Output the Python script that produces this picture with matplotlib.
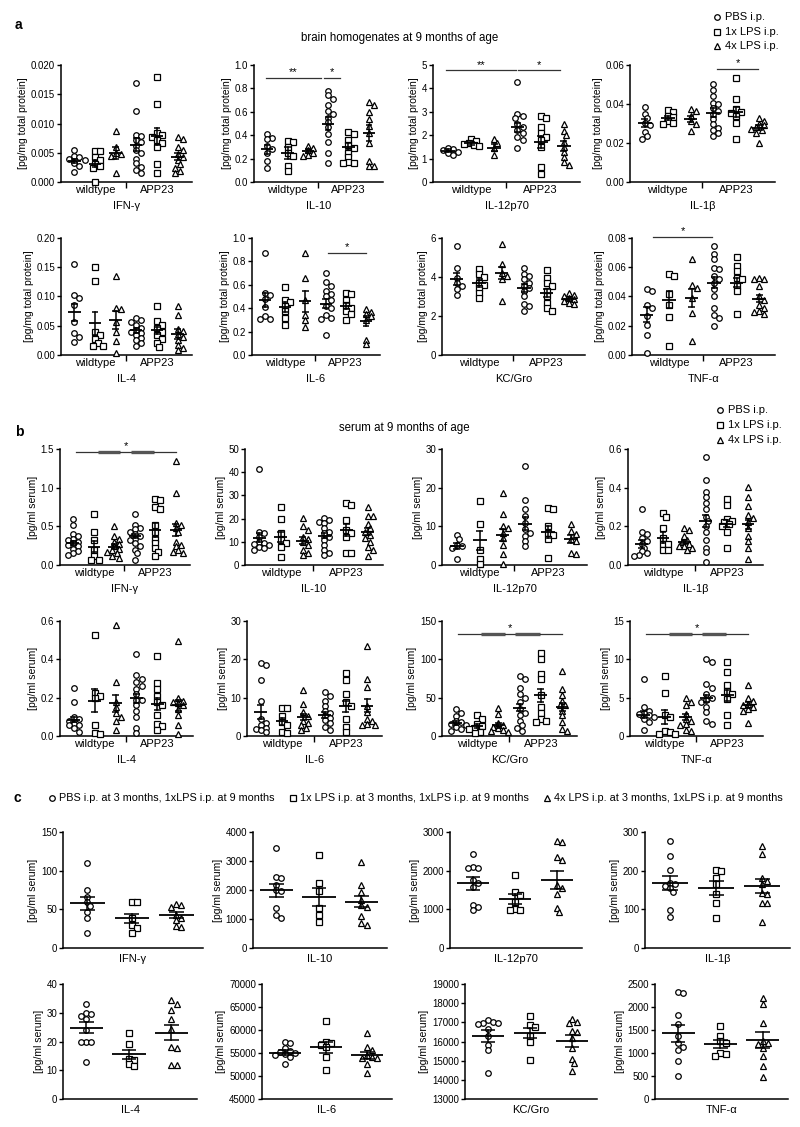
import matplotlib
matplotlib.use('Agg')
import matplotlib.pyplot as plt
import numpy as np
from matplotlib.lines import Line2D
from matplotlib.ticker import FormatStrFormatter

plt.rcParams['font.family'] = ['Liberation Sans', 'DejaVu Sans']

# ---------------- data: panel a (brain homogenates) ----------------
a_ifng = [[0.0054, 0.0045, 0.0042, 0.0040, 0.0038, 0.0033, 0.0028, 0.0017],
          [0.0053, 0.0053, 0.0043, 0.0037, 0.0031, 0.0028, 0.0024, 0.0000],
          [0.0087, 0.0060, 0.0050, 0.0048, 0.0044, 0.0016],
          [0.0169, 0.0121, 0.0081, 0.0078, 0.0071, 0.0068, 0.0062, 0.0054, 0.0049, 0.0040, 0.0032, 0.0026, 0.0020, 0.0016],
          [0.0180, 0.0133, 0.0083, 0.0080, 0.0077, 0.0072, 0.0066, 0.0060, 0.0031, 0.0015],
          [0.0077, 0.0074, 0.0060, 0.0055, 0.0048, 0.0043, 0.0037, 0.0030, 0.0024, 0.0018, 0.0015]]
a_ifng_mean = [0.0036, 0.0031, 0.0050, 0.0064, 0.0078, 0.0043]
a_ifng_sem = [0.0004, 0.0006, 0.0010, 0.0011, 0.0014, 0.0006]

a_il10 = [[0.41, 0.38, 0.37, 0.31, 0.28, 0.25, 0.18, 0.12],
          [0.35, 0.34, 0.30, 0.25, 0.22, 0.14, 0.09],
          [0.31, 0.29, 0.27, 0.25, 0.23, 0.22],
          [0.78, 0.74, 0.71, 0.66, 0.61, 0.58, 0.55, 0.51, 0.47, 0.41, 0.34, 0.25, 0.16],
          [0.43, 0.41, 0.36, 0.32, 0.29, 0.25, 0.21, 0.17, 0.16, 0.16],
          [0.68, 0.66, 0.60, 0.54, 0.48, 0.42, 0.33, 0.18, 0.14, 0.14]]
a_il10_mean = [0.28, 0.245, 0.265, 0.50, 0.30, 0.42]
a_il10_sem = [0.04, 0.05, 0.02, 0.055, 0.03, 0.07]

a_il12 = [[1.45, 1.42, 1.35, 1.28, 1.22, 1.15],
          [1.85, 1.75, 1.68, 1.62, 1.58, 1.55],
          [1.82, 1.65, 1.45, 1.15],
          [4.27, 2.90, 2.80, 2.73, 2.50, 2.37, 2.22, 2.08, 1.94, 1.80, 1.44],
          [2.84, 2.73, 2.33, 2.08, 1.94, 1.80, 1.51, 0.65, 0.33],
          [2.47, 2.18, 2.00, 1.72, 1.51, 1.29, 1.08, 0.86, 0.72]]
a_il12_mean = [1.34, 1.65, 1.47, 2.33, 1.72, 1.54]
a_il12_sem = [0.05, 0.05, 0.15, 0.20, 0.25, 0.22]

a_il1b = [[0.0385, 0.0350, 0.0330, 0.0305, 0.0290, 0.0255, 0.0235, 0.0222],
          [0.0368, 0.0360, 0.0340, 0.0335, 0.0315, 0.0305, 0.0300],
          [0.0373, 0.0365, 0.0340, 0.0315, 0.0296, 0.0262],
          [0.0504, 0.0472, 0.0440, 0.0407, 0.0400, 0.0380, 0.0364, 0.0347, 0.0321, 0.0296, 0.0279, 0.0265, 0.0253, 0.0236],
          [0.0535, 0.0424, 0.0373, 0.0360, 0.0356, 0.0340, 0.0304, 0.0219],
          [0.0330, 0.0314, 0.0300, 0.0290, 0.0280, 0.0273, 0.0265, 0.0250, 0.0202]]
a_il1b_mean = [0.0301, 0.0330, 0.0325, 0.0356, 0.0359, 0.0279]
a_il1b_sem = [0.0020, 0.0010, 0.0015, 0.0025, 0.0025, 0.0012]

a_il4 = [[0.155, 0.102, 0.098, 0.086, 0.057, 0.037, 0.031, 0.022],
         [0.150, 0.127, 0.040, 0.035, 0.028, 0.021, 0.016, 0.015],
         [0.135, 0.080, 0.079, 0.057, 0.039, 0.024, 0.003],
         [0.063, 0.060, 0.057, 0.052, 0.047, 0.042, 0.040, 0.037, 0.034, 0.029, 0.025, 0.020, 0.015],
         [0.084, 0.058, 0.052, 0.046, 0.040, 0.034, 0.028, 0.020, 0.013],
         [0.083, 0.069, 0.044, 0.041, 0.036, 0.031, 0.026, 0.017, 0.012, 0.009]]
a_il4_mean = [0.073, 0.054, 0.060, 0.042, 0.042, 0.036]
a_il4_sem = [0.015, 0.019, 0.016, 0.004, 0.006, 0.008]

a_il6 = [[0.87, 0.53, 0.51, 0.48, 0.41, 0.33, 0.31, 0.31],
         [0.58, 0.47, 0.45, 0.42, 0.38, 0.32, 0.26],
         [0.87, 0.66, 0.47, 0.34, 0.30, 0.24],
         [0.70, 0.62, 0.59, 0.55, 0.52, 0.50, 0.47, 0.42, 0.40, 0.34, 0.32, 0.31, 0.17],
         [0.53, 0.52, 0.47, 0.43, 0.40, 0.38, 0.35, 0.30],
         [0.39, 0.37, 0.35, 0.33, 0.30, 0.13, 0.09]]
a_il6_mean = [0.47, 0.41, 0.46, 0.44, 0.42, 0.29]
a_il6_sem = [0.06, 0.04, 0.09, 0.04, 0.025, 0.04]

a_kc = [[5.57, 4.48, 3.95, 3.70, 3.53, 3.36, 3.10],
        [4.40, 4.14, 4.00, 3.70, 3.60, 3.45, 3.20, 2.90],
        [5.70, 4.65, 4.22, 4.05, 3.88, 2.76],
        [4.48, 4.14, 4.05, 3.88, 3.70, 3.53, 3.45, 3.28, 3.02, 2.59, 2.50, 2.24],
        [4.35, 3.97, 3.70, 3.53, 3.28, 3.02, 2.67, 2.41, 2.24],
        [3.20, 3.10, 3.02, 2.93, 2.85, 2.76, 2.67, 2.59]]
a_kc_mean = [3.88, 3.70, 4.19, 3.45, 3.19, 2.88]
a_kc_sem = [0.30, 0.20, 0.30, 0.20, 0.22, 0.10]

a_tnf = [[0.0448, 0.0437, 0.0345, 0.0322, 0.0264, 0.0207, 0.0138, 0.0016],
         [0.0556, 0.0540, 0.0414, 0.0345, 0.0257, 0.0064],
         [0.0655, 0.0476, 0.0460, 0.0391, 0.0287, 0.0099],
         [0.0747, 0.0690, 0.0655, 0.0598, 0.0586, 0.0540, 0.0517, 0.0494, 0.0448, 0.0402, 0.0322, 0.0276, 0.0253, 0.0195],
         [0.0673, 0.0610, 0.0575, 0.0529, 0.0517, 0.0471, 0.0437, 0.0280],
         [0.0524, 0.0520, 0.0517, 0.0471, 0.0402, 0.0379, 0.0345, 0.0322, 0.0300, 0.0294, 0.0280]]
a_tnf_mean = [0.0276, 0.0379, 0.0390, 0.0495, 0.0495, 0.0386]
a_tnf_sem = [0.005, 0.006, 0.006, 0.004, 0.003, 0.0025]

# ---------------- data: panel b (serum, 9 months) ----------------
b_ifng = [[0.60, 0.52, 0.40, 0.37, 0.34, 0.32, 0.30, 0.28, 0.26, 0.24, 0.21, 0.18, 0.15, 0.13],
          [0.655, 0.43, 0.32, 0.19, 0.11, 0.065, 0.06],
          [0.50, 0.37, 0.34, 0.30, 0.27, 0.24, 0.21, 0.19, 0.17, 0.15, 0.12, 0.095],
          [0.655, 0.52, 0.48, 0.46, 0.43, 0.40, 0.37, 0.34, 0.32, 0.28, 0.24, 0.20, 0.15, 0.065],
          [0.85, 0.84, 0.75, 0.73, 0.52, 0.43, 0.34, 0.28, 0.22, 0.17, 0.11],
          [1.34, 0.93, 0.54, 0.52, 0.48, 0.43, 0.30, 0.26, 0.24, 0.19, 0.17, 0.15]]
b_ifng_mean = [0.285, 0.237, 0.237, 0.375, 0.45, 0.45]
b_ifng_sem = [0.03, 0.07, 0.03, 0.03, 0.09, 0.08]

b_il10 = [[41.5, 14.4, 13.7, 12.2, 10.1, 9.4, 9.0, 8.6, 7.9, 7.2, 6.5],
          [25.2, 19.7, 13.7, 10.8, 9.5, 7.9, 3.3],
          [20.2, 16.6, 15.1, 12.2, 11.0, 10.1, 8.6, 6.5, 5.0, 4.3],
          [20.2, 19.5, 18.7, 18.0, 15.8, 14.4, 13.7, 12.2, 10.8, 8.6, 6.5, 5.0, 4.5],
          [26.9, 25.9, 19.5, 15.1, 13.7, 12.2, 5.3, 5.0],
          [24.9, 21.2, 21.0, 17.7, 15.8, 14.4, 13.0, 11.5, 10.1, 7.9, 6.5, 3.9]]
b_il10_mean = [11.8, 12.0, 10.5, 12.7, 15.1, 14.4]
b_il10_sem = [1.8, 2.3, 1.4, 1.2, 2.4, 1.4]

b_il12 = [[7.7, 6.6, 5.3, 4.9, 4.5, 1.5],
          [16.5, 10.7, 4.0, 1.5, 0.2],
          [18.7, 13.1, 10.1, 9.6, 8.3, 7.1, 5.3, 2.8, 0.2],
          [25.7, 16.8, 14.6, 12.6, 10.9, 9.2, 8.3, 7.5, 6.2, 4.9],
          [14.8, 14.6, 10.1, 8.3, 7.7, 6.6, 1.9],
          [10.5, 8.8, 7.9, 6.6, 6.2, 3.2, 2.8]]
b_il12_mean = [4.9, 6.4, 7.8, 10.7, 8.5, 6.8]
b_il12_sem = [0.8, 2.5, 1.5, 1.6, 1.5, 1.0]

b_il1b = [[0.29, 0.17, 0.16, 0.14, 0.125, 0.11, 0.09, 0.07, 0.06, 0.05, 0.045],
          [0.27, 0.25, 0.19, 0.14, 0.11, 0.11, 0.08, 0.08],
          [0.19, 0.18, 0.15, 0.13, 0.12, 0.11, 0.10, 0.10, 0.09, 0.08],
          [0.56, 0.44, 0.38, 0.35, 0.32, 0.29, 0.25, 0.23, 0.20, 0.17, 0.13, 0.09, 0.065, 0.014],
          [0.34, 0.31, 0.24, 0.23, 0.22, 0.21, 0.20, 0.17, 0.09],
          [0.405, 0.35, 0.305, 0.26, 0.245, 0.22, 0.19, 0.15, 0.125, 0.09, 0.03]]
b_il1b_mean = [0.108, 0.142, 0.12, 0.228, 0.214, 0.21]
b_il1b_sem = [0.02, 0.03, 0.01, 0.03, 0.02, 0.025]

b_il4 = [[0.25, 0.176, 0.098, 0.09, 0.08, 0.065, 0.06, 0.055, 0.04, 0.02],
         [0.527, 0.224, 0.21, 0.20, 0.058, 0.017, 0.012],
         [0.58, 0.28, 0.176, 0.15, 0.12, 0.10, 0.08, 0.03],
         [0.426, 0.317, 0.297, 0.28, 0.26, 0.245, 0.22, 0.19, 0.19, 0.16, 0.13, 0.10, 0.041, 0.017],
         [0.417, 0.276, 0.245, 0.21, 0.176, 0.16, 0.107, 0.064, 0.05, 0.03],
         [0.495, 0.20, 0.185, 0.18, 0.17, 0.16, 0.14, 0.107, 0.055, 0.012]]
b_il4_mean = [0.086, 0.184, 0.17, 0.196, 0.167, 0.16]
b_il4_sem = [0.015, 0.06, 0.045, 0.025, 0.03, 0.03]

b_il6 = [[19.1, 18.4, 14.7, 9.2, 4.5, 3.5, 2.8, 2.2, 1.9, 1.5, 1.0],
         [7.3, 7.3, 5.3, 3.6, 2.8, 1.0, 0.8],
         [12.0, 8.4, 6.2, 5.3, 4.0, 3.5, 2.8, 2.2, 1.5],
         [11.4, 10.5, 9.2, 7.9, 6.6, 6.0, 5.3, 4.8, 4.1, 3.5, 2.3, 1.5],
         [16.5, 14.7, 10.9, 8.8, 7.8, 4.5, 2.3, 1.0],
         [23.6, 15.0, 12.9, 7.9, 6.2, 4.5, 4.0, 3.2, 3.0, 2.8]]
b_il6_mean = [6.3, 3.8, 4.9, 5.5, 7.7, 7.9]
b_il6_sem = [1.8, 0.9, 0.8, 0.8, 1.4, 1.7]

b_kc = [[35, 30, 26, 20, 18, 16, 14, 12, 9, 7],
        [27, 22, 16, 13, 10, 9, 5, 4],
        [37, 29, 17, 14, 12, 10, 8, 6, 5],
        [78, 74, 63, 55, 50, 44, 35, 30, 27, 20, 14, 10, 7],
        [108, 100, 81, 75, 53, 38, 30, 22, 20, 18],
        [85, 61, 53, 46, 40, 40, 33, 27, 18, 9, 7]]
b_kc_mean = [17, 13, 14, 37, 53, 38]
b_kc_sem = [2.5, 2.5, 3, 5, 8, 5]

b_tnf = [[7.4, 3.75, 3.3, 3.0, 2.9, 2.7, 2.5, 2.2, 1.8, 0.8],
         [7.8, 5.6, 2.7, 2.5, 0.7, 0.5, 0.3, 0.3],
         [4.9, 4.4, 4.0, 2.9, 2.2, 2.0, 1.6, 1.5, 0.8, 0.6],
         [10.1, 9.6, 6.8, 6.3, 5.5, 5.0, 4.7, 4.4, 3.75, 3.1, 2.0, 1.6],
         [9.7, 8.4, 6.6, 5.9, 5.5, 4.8, 2.8, 1.5],
         [6.6, 4.9, 4.6, 4.2, 4.0, 3.75, 3.5, 3.3, 1.7]]
b_tnf_mean = [2.8, 2.5, 2.45, 4.9, 5.3, 4.05]
b_tnf_sem = [0.4, 0.9, 0.4, 0.5, 0.7, 0.35]

# ---------------- data: panel c (serum, pre-treatment) ----------------
c_ifng = [[110, 75, 66, 59, 54, 46, 39, 19],
          [60, 59, 39, 30, 26, 20],
          [57, 55, 53, 43, 39, 36, 28, 27]]
c_ifng_mean = [58, 38.5, 43]
c_ifng_sem = [8.5, 6, 4]

c_il10 = [[3450, 2460, 2400, 2170, 2000, 1950, 1370, 1140, 1050],
          [3220, 2230, 1970, 1370, 1140, 890],
          [2950, 2170, 1940, 1660, 1490, 1400, 1090, 860, 800]]
c_il10_mean = [1990, 1770, 1600]
c_il10_sem = [230, 310, 200]

c_il12 = [[2420, 2100, 2070, 2070, 1760, 1670, 1590, 1110, 1050, 990],
          [1890, 1460, 1370, 1200, 1000, 990, 990],
          [2780, 2730, 2360, 2270, 1630, 1540, 1390, 1030, 930]]
c_il12_mean = [1670, 1270, 1760]
c_il12_sem = [160, 120, 230]

c_il1b = [[276, 237, 203, 169, 165, 160, 156, 145, 98, 81],
          [202, 200, 180, 165, 139, 117, 77],
          [265, 243, 180, 173, 165, 143, 139, 116, 116, 66]]
c_il1b_mean = [169, 155, 160]
c_il1b_sem = [18, 17, 18]

c_il4 = [[33, 30, 29.5, 29, 28, 24, 20, 20, 20, 13],
         [23, 19, 14, 13.5, 12.3, 11.5],
         [34.4, 33.2, 31, 28, 24.5, 18.2, 17.6, 11.7, 11.7]]
c_il4_mean = [24.8, 15.5, 23]
c_il4_sem = [2, 1.6, 2.6]

c_il6 = [[57500, 57100, 56000, 55500, 55300, 55000, 54800, 54600, 54200, 52600],
         [62000, 57500, 57200, 56800, 56300, 54200, 51300],
         [59300, 56400, 55700, 54600, 54200, 54000, 53900, 52600, 50600]]
c_il6_mean = [55100, 56300, 54500]
c_il6_sem = [450, 1200, 800]

c_kc = [[17100, 17020, 16980, 16980, 16900, 16670, 16280, 15840, 15580, 14350],
        [17330, 16840, 16770, 16280, 15960, 15050],
        [17160, 17040, 16950, 16540, 16520, 16200, 15670, 15090, 14880, 14440]]
c_kc_mean = [16280, 16450, 16020]
c_kc_sem = [300, 280, 300]

c_tnf = [[2330, 2300, 1835, 1630, 1370, 1220, 1140, 1065, 830, 505],
         [1580, 1370, 1260, 1220, 1000, 970, 935],
         [2190, 2070, 1655, 1260, 1225, 1190, 1115, 935, 720, 470]]
c_tnf_mean = [1425, 1190, 1280]
c_tnf_sem = [190, 90, 170]

cytokines = ['IFN-γ', 'IL-10', 'IL-12p70', 'IL-1β', 'IL-4', 'IL-6', 'KC/Gro', 'TNF-α']
groups = ['wildtype', 'APP23']
legend_ab = ['PBS i.p.', '1x LPS i.p.', '4x LPS i.p.']
legend_c = ['PBS i.p. at 3 months, 1xLPS i.p. at 9 months',
            '1x LPS i.p. at 3 months, 1xLPS i.p. at 9 months',
            '4x LPS i.p. at 3 months, 1xLPS i.p. at 9 months']

# ---------------- layout ----------------
W, H = 800, 1127
fig = plt.figure(figsize=(W / 100, H / 100), dpi=100)

rows_y = {'a1': (65, 182), 'a2': (238, 355), 'b1': (449, 565),
          'b2': (621, 736), 'c1': (832, 948), 'c2': (984, 1099)}
rows_x = {'a1': [(61, 192), (254, 383), (433, 580), (630, 775)],
          'a2': [(61, 192), (252, 380), (442, 585), (632, 775)],
          'b1': [(60, 190), (245, 383), (442, 587), (628, 763)],
          'b2': [(60, 193), (247, 382), (442, 577), (630, 763)],
          'c1': [(63, 203), (253, 387), (450, 582), (645, 790)],
          'c2': [(63, 197), (262, 392), (465, 597), (655, 788)]}

# (row, slot, values, means, sems, name, ylo, yhi, ystep, decimals, ylabel)
panels = [
    ('a1', 0, a_ifng, a_ifng_mean, a_ifng_sem, cytokines[0], 0, 0.02, 0.005, 3, '[pg/mg total protein]'),
    ('a1', 1, a_il10, a_il10_mean, a_il10_sem, cytokines[1], 0, 1.0, 0.2, 1, '[pg/mg total protein]'),
    ('a1', 2, a_il12, a_il12_mean, a_il12_sem, cytokines[2], 0, 5, 1, 0, '[pg/mg total protein]'),
    ('a1', 3, a_il1b, a_il1b_mean, a_il1b_sem, cytokines[3], 0, 0.06, 0.02, 2, '[pg/mg total protein]'),
    ('a2', 0, a_il4, a_il4_mean, a_il4_sem, cytokines[4], 0, 0.2, 0.05, 2, '[pg/mg total protein]'),
    ('a2', 1, a_il6, a_il6_mean, a_il6_sem, cytokines[5], 0, 1.0, 0.2, 1, '[pg/mg total protein]'),
    ('a2', 2, a_kc, a_kc_mean, a_kc_sem, cytokines[6], 0, 6, 2, 0, '[pg/mg total protein]'),
    ('a2', 3, a_tnf, a_tnf_mean, a_tnf_sem, cytokines[7], 0, 0.08, 0.02, 2, '[pg/mg total protein]'),
    ('b1', 0, b_ifng, b_ifng_mean, b_ifng_sem, cytokines[0], 0, 1.5, 0.5, 1, '[pg/ml serum]'),
    ('b1', 1, b_il10, b_il10_mean, b_il10_sem, cytokines[1], 0, 50, 10, 0, '[pg/ml serum]'),
    ('b1', 2, b_il12, b_il12_mean, b_il12_sem, cytokines[2], 0, 30, 10, 0, '[pg/ml serum]'),
    ('b1', 3, b_il1b, b_il1b_mean, b_il1b_sem, cytokines[3], 0, 0.6, 0.2, 1, '[pg/ml serum]'),
    ('b2', 0, b_il4, b_il4_mean, b_il4_sem, cytokines[4], 0, 0.6, 0.2, 1, '[pg/ml serum]'),
    ('b2', 1, b_il6, b_il6_mean, b_il6_sem, cytokines[5], 0, 30, 10, 0, '[pg/ml serum]'),
    ('b2', 2, b_kc, b_kc_mean, b_kc_sem, cytokines[6], 0, 150, 50, 0, '[pg/ml serum]'),
    ('b2', 3, b_tnf, b_tnf_mean, b_tnf_sem, cytokines[7], 0, 15, 5, 0, '[pg/ml serum]'),
    ('c1', 0, c_ifng, c_ifng_mean, c_ifng_sem, cytokines[0], 0, 150, 50, 0, '[pg/ml serum]'),
    ('c1', 1, c_il10, c_il10_mean, c_il10_sem, cytokines[1], 0, 4000, 1000, 0, '[pg/ml serum]'),
    ('c1', 2, c_il12, c_il12_mean, c_il12_sem, cytokines[2], 0, 3000, 1000, 0, '[pg/ml serum]'),
    ('c1', 3, c_il1b, c_il1b_mean, c_il1b_sem, cytokines[3], 0, 300, 100, 0, '[pg/ml serum]'),
    ('c2', 0, c_il4, c_il4_mean, c_il4_sem, cytokines[4], 0, 40, 10, 0, '[pg/ml serum]'),
    ('c2', 1, c_il6, c_il6_mean, c_il6_sem, cytokines[5], 45000, 70000, 5000, 0, '[pg/ml serum]'),
    ('c2', 2, c_kc, c_kc_mean, c_kc_sem, cytokines[6], 13000, 19000, 1000, 0, '[pg/ml serum]'),
    ('c2', 3, c_tnf, c_tnf_mean, c_tnf_sem, cytokines[7], 0, 2500, 500, 0, '[pg/ml serum]'),
]

# significance annotations: (start col, end col, y, text)
sig_pairs = {('a1', 1): [(0.93, 3.64, 0.89, '**'), (3.79, 4.57, 0.89, '*')],
             ('a1', 2): [(0.92, 3.92, 4.77, '**'), (4.03, 5.85, 4.77, '*')],
             ('a1', 3): [(4.17, 5.96, 0.058, '*')],
             ('a2', 1): [(4.13, 6.03, 0.87, '*')],
             ('a2', 3): [(1.28, 3.92, 0.0805, '*')]}
sig_groups = {('b1', 0): 1.46, ('b2', 2): 133, ('b2', 3): 13.3}

MARKERS = ['o', 's', '^']
MSIZE = {'o': 4.0, 's': 3.7, '^': 4.2}


def swarm_offsets(ax, x0, vals, dpx):
    T = ax.transData
    vals = np.asarray(vals, float)
    ypx = T.transform(np.column_stack([np.full(len(vals), x0), vals]))[:, 1]
    sx = T.transform([[1, 0]])[0, 0] - T.transform([[0, 0]])[0, 0]
    order = np.argsort(-vals, kind='stable')
    steps = [0]
    for k in range(1, 10):
        steps += [k, -k]
    placed = []
    off = np.zeros(len(vals))
    for i in order:
        xo = 0.0
        for s in steps:
            xo = s * dpx * 0.55
            if all((xo - px) ** 2 + (ypx[i] - py) ** 2 >= dpx ** 2 for px, py in placed):
                break
        placed.append((xo, ypx[i]))
        off[i] = xo / sx
    return off


for (row, slot, vals, means, sems, name, ylo, yhi, ystep, dec, ylab) in panels:
    top, bot = rows_y[row]
    l, r = rows_x[row][slot]
    ax = fig.add_axes([l / W, 1 - bot / H, (r - l) / W, (bot - top) / H])
    ncol = len(vals)
    three = ncol == 3
    if three:
        ax.set_xlim(0.45, 3.6)
    else:
        ax.set_xlim(0.35, 6.7)
    ax.set_ylim(ylo, yhi)
    for sp in ['top', 'right']:
        ax.spines[sp].set_visible(False)
    for sp in ['left', 'bottom']:
        ax.spines[sp].set_linewidth(1.1)
    ax.set_yticks(np.arange(ylo, yhi + ystep * 0.5, ystep))
    ax.yaxis.set_major_formatter(FormatStrFormatter('%%.%df' % dec))
    ax.tick_params(axis='y', direction='out', length=3, width=1.0, pad=1.2, labelsize=7)
    ax.set_ylabel(ylab, fontsize=7.5, labelpad=2)

    mw = 0.39 if three else 0.30
    cw = 0.17 if three else 0.16
    for k in range(ncol):
        xc = k + 1
        m = MARKERS[k % 3]
        off = swarm_offsets(ax, xc, vals[k], 4.6)
        ax.plot(xc + off, vals[k], ls='none', marker=m, ms=MSIZE[m], mfc='white',
                mec='black', mew=0.9, zorder=3, clip_on=False)
        mu, se = means[k], sems[k]
        ax.plot([xc - mw, xc + mw], [mu, mu], color='black', lw=1.3, zorder=4,
                solid_capstyle='butt')
        ax.plot([xc, xc], [mu - se, mu + se], color='black', lw=1.1, zorder=4)
        for yy in (mu - se, mu + se):
            ax.plot([xc - cw, xc + cw], [yy, yy], color='black', lw=1.1, zorder=4,
                    solid_capstyle='butt')

    if three:
        ax.set_xticks([])
        ax.set_xlabel(name, fontsize=8, labelpad=4)
    else:
        ax.set_xticks([2, 5])
        ax.set_xticklabels(groups)
        ax.set_xticks([3.5], minor=True)
        ax.tick_params(axis='x', which='major', length=0, pad=2.5, labelsize=8)
        ax.tick_params(axis='x', which='minor', length=4, width=1.0, direction='out')
        ax.set_xlabel(name, fontsize=8, labelpad=4)

    for (x0, x1, yy, txt) in sig_pairs.get((row, slot), []):
        ax.plot([x0, x1], [yy, yy], color='#333333', lw=0.9, clip_on=False, zorder=5)
        ax.annotate(txt, ((x0 + x1) / 2, yy), xytext=(0, 0.5), textcoords='offset points',
                    ha='center', va='bottom', fontsize=8, annotation_clip=False)
    if (row, slot) in sig_groups:
        yy = sig_groups[(row, slot)]
        ax.plot([1.12, 2.2], [yy, yy], color='#333333', lw=0.9, clip_on=False, zorder=5)
        ax.plot([2.2, 3.3], [yy, yy], color='#555555', lw=2.4, clip_on=False, zorder=5,
                solid_capstyle='butt')
        ax.plot([3.3, 3.8], [yy, yy], color='#333333', lw=0.9, clip_on=False, zorder=5)
        ax.plot([3.8, 4.95], [yy, yy], color='#555555', lw=2.4, clip_on=False, zorder=5,
                solid_capstyle='butt')
        ax.plot([4.95, 6.0], [yy, yy], color='#333333', lw=0.9, clip_on=False, zorder=5)
        ax.annotate('*', (3.55, yy), xytext=(0, 1.0), textcoords='offset points',
                    ha='center', va='bottom', fontsize=8, annotation_clip=False)

# ---------------- titles, panel letters, legends ----------------
fig.text(15 / W, 1 - 25 / H, 'a', fontsize=10, fontweight='bold', ha='left', va='center')
fig.text(15 / W, 1 - 432 / H, 'b', fontsize=10, fontweight='bold', ha='left', va='center')
fig.text(13 / W, 1 - 798 / H, 'c', fontsize=10, fontweight='bold', ha='left', va='center')
fig.text(400 / W, 1 - 38 / H, 'brain homogenates at 9 months of age', fontsize=8.3,
         ha='center', va='center')
fig.text(404 / W, 1 - 428 / H, 'serum at 9 months of age', fontsize=8.3,
         ha='center', va='center')


def add_marker(xp, yp, m):
    fig.add_artist(Line2D([xp / W], [1 - yp / H], transform=fig.transFigure, ls='none',
                          marker=m, ms=MSIZE[m], mfc='white', mec='black', mew=0.9))


for (y0, xm) in [((17, 32, 46), 717), ((410, 425, 440), 720)]:
    for k, lab in enumerate(legend_ab):
        add_marker(xm, y0[k], MARKERS[k])
        fig.text((xm + 8) / W, 1 - y0[k] / H, lab, fontsize=8, ha='left', va='center')

# legend c: one row from x=52 (first marker) to x=783 (end of last text)
renderer = fig.canvas.get_renderer()
c_texts = []
for lab in legend_c:
    t = fig.text(0, 1 - 798 / H, lab, fontsize=7.8, ha='left', va='center')
    c_texts.append(t)
widths = [t.get_window_extent(renderer).width for t in c_texts]
x_start, x_end, mgap = 52, 783, 7
gap = (x_end - x_start - 3 * mgap - sum(widths)) / 2.0
xm = x_start
for k, t in enumerate(c_texts):
    add_marker(xm, 798, MARKERS[k])
    t.set_x((xm + mgap) / W)
    xm = xm + mgap + widths[k] + gap

fig.savefig('out.png', dpi=100)
